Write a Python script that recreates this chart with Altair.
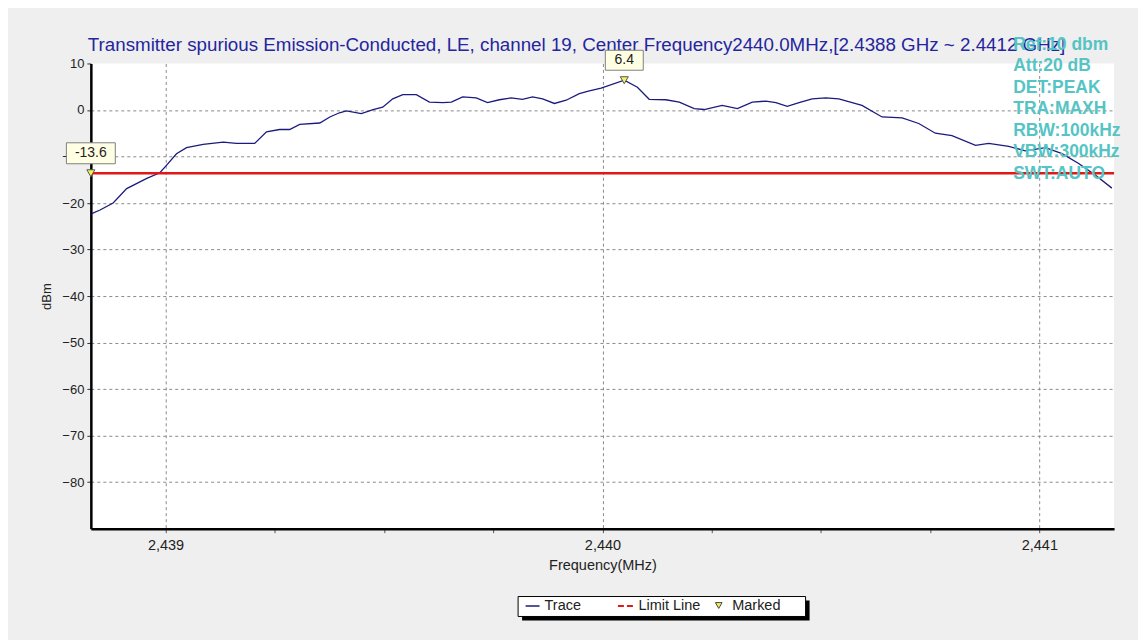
import altair as alt
import pandas as pd

# ---------------- data ----------------
trace_freq = [
    2438.831, 2438.850, 2438.880, 2438.911, 2438.957, 2438.987, 2439.002, 2439.025,
    2439.048, 2439.086, 2439.132, 2439.162, 2439.204, 2439.231, 2439.261, 2439.284,
    2439.307, 2439.353, 2439.376, 2439.398, 2439.414, 2439.448, 2439.475, 2439.497,
    2439.520, 2439.543, 2439.574, 2439.604, 2439.635, 2439.654, 2439.680, 2439.711,
    2439.737, 2439.764, 2439.791, 2439.817, 2439.840, 2439.863, 2439.890, 2439.917,
    2439.947, 2439.970, 2439.997, 2440.050, 2440.080, 2440.107, 2440.145, 2440.176,
    2440.210, 2440.233, 2440.274, 2440.309, 2440.343, 2440.374, 2440.397, 2440.423,
    2440.450, 2440.480, 2440.511, 2440.541, 2440.594, 2440.640, 2440.686, 2440.724,
    2440.762, 2440.800, 2440.854, 2440.884, 2440.930, 2440.968, 2441.014, 2441.052,
    2441.090, 2441.128, 2441.166,
]
trace_dbm = [
    -22.3, -21.5, -20.0, -16.9, -14.7, -13.5, -11.9, -9.4,
    -8.1, -7.4, -6.9, -7.2, -7.2, -4.7, -4.2, -4.2,
    -3.1, -2.8, -1.5, -0.6, -0.2, -0.8, 0.1, 0.6,
    2.4, 3.3, 3.3, 1.7, 1.6, 1.7, 2.8, 2.6,
    1.6, 2.2, 2.6, 2.3, 2.8, 2.4, 1.4, 2.1,
    3.5, 4.1, 4.7, 6.4, 4.9, 2.3, 2.2, 1.7,
    0.3, 0.1, 1.0, 0.3, 1.7, 1.9, 1.6, 0.8,
    1.6, 2.4, 2.6, 2.4, 1.0, -1.5, -1.7, -2.9,
    -5.0, -5.5, -7.6, -7.2, -7.8, -8.8, -8.1, -9.4,
    -11.5, -14.0, -16.8,
]
limit_dbm = -13.6
marker_freq = [2440.05, 2438.829]
marker_dbm = [6.4, -13.6]
marker_text = ["6.4", "-13.6"]

title_text = ("Transmitter spurious Emission-Conducted, LE, channel 19, Center "
              "Frequency2440.0MHz,[2.4388 GHz ~ 2.4412 GHz]")
info_lines = ["Ref:10 dbm", "Att:20 dB", "DET:PEAK", "TRA:MAXH",
              "RBW:100kHz", "VBW:300kHz", "SWT:AUTO"]
legend_labels = ["Trace", "Limit Line", "Marked"]

x_domain = [2438.829, 2441.171]
y_domain = [-90, 10]
x_ticks = [2439, 2439.25, 2439.5, 2439.75, 2440, 2440.25, 2440.5, 2440.75, 2441]
y_ticks = [10, 0, -10, -20, -30, -40, -50, -60, -70, -80]

# ---------------- styling ----------------
FONT = "Liberation Sans"
NAVY = "#1b1b7d"
RED = "#e01818"
TEAL = "#55c4c4"
W, H = 1025, 466

trace_df = pd.DataFrame({"f": trace_freq, "v": trace_dbm})
marker_df = pd.DataFrame({"f": marker_freq, "v": marker_dbm, "t": marker_text})

x_axis = alt.Axis(
    title="Frequency(MHz)", values=x_ticks,
    labelExpr="datum.value % 1 == 0 ? format(datum.value, ',.0f') : ''",
    grid=True, gridDash=[3, 3], gridColor="#8a8a8a", gridWidth=1,
    gridOpacity={"condition": {"test": "datum.value % 1 == 0", "value": 1}, "value": 0},
    domainColor="black", domainWidth=2.5, tickColor="#555", tickSize=4,
    labelFont=FONT, labelFontSize=14.5, labelColor="#222", labelPadding=6,
    titleFont=FONT, titleFontSize=14.5, titleFontWeight="normal", titleColor="#222",
    titlePadding=6,
)
y_axis = alt.Axis(
    title="dBm", values=y_ticks,
    grid=True, gridDash=[3, 3], gridColor="#8a8a8a", gridWidth=1,
    gridOpacity={"condition": {"test": "datum.value == 10", "value": 0}, "value": 1},
    domainColor="black", domainWidth=2.5, tickColor="#333", tickSize=4,
    labelFont=FONT, labelFontSize=13, labelColor="#222", labelPadding=3,
    titleFont=FONT, titleFontSize=13, titleFontWeight="normal", titleColor="#222",
    titlePadding=8,
)
X = alt.X("f:Q", scale=alt.Scale(domain=x_domain, nice=False, zero=False), axis=x_axis)
Y = alt.Y("v:Q", scale=alt.Scale(domain=y_domain, nice=False, zero=False), axis=y_axis)

one = alt.Data(values=[{}])

trace = alt.Chart(trace_df).mark_line(color=NAVY, strokeWidth=1.3).encode(x=X, y=Y)

limit = alt.Chart(alt.Data(values=[{"v": limit_dbm}])).mark_rule(
    color=RED, strokeWidth=2.5).encode(y=Y)

tri = alt.Chart(marker_df).mark_point(
    shape="triangle-down", filled=True, fill="#f2f25a", stroke="#555",
    strokeWidth=1, size=65, opacity=1).encode(x=X, y=Y)


def box_path(w, h):
    r = h / w
    return f"M-1,{-r:.4f}L1,{-r:.4f}L1,{r:.4f}L-1,{r:.4f}Z"


box_peak = alt.Chart(marker_df).transform_filter(alt.datum.t == "6.4").mark_point(
    shape=box_path(38, 20), size=38 * 38, filled=True, fill="#ffffe4",
    stroke="#808080", strokeWidth=1, opacity=1, yOffset=-20).encode(x=X, y=Y)
box_left = alt.Chart(marker_df).transform_filter(alt.datum.t == "-13.6").mark_point(
    shape=box_path(49, 21), size=49 * 49, filled=True, fill="#ffffe4",
    stroke="#808080", strokeWidth=1, opacity=1, yOffset=-20).encode(x=X, y=Y)
marker_lbl = alt.Chart(marker_df).mark_text(
    font=FONT, fontSize=14, color="#222", dy=-20, baseline="middle",
    align="center").encode(x=X, y=Y, text="t:N")

title = alt.Chart(one).mark_text(
    font=FONT, fontSize=18.8, color="#2525a0", align="left",
    baseline="alphabetic").encode(
    x=alt.value(-3), y=alt.value(-12.3), text=alt.value(title_text))

info = alt.Chart(one).mark_text(
    font=FONT, fontSize=17.5, fontWeight="bold", color=TEAL, align="left",
    baseline="top", lineHeight=21.5).encode(
    x=alt.value(924), y=alt.value(-27.5), text=alt.value(info_lines))

# legend (drawn by hand)
leg_shadow = alt.Chart(one).mark_rect(color="black").encode(
    x=alt.value(432), x2=alt.value(720), y=alt.value(538), y2=alt.value(558))
leg_box = alt.Chart(one).mark_rect(fill="white", stroke="black", strokeWidth=1).encode(
    x=alt.value(428), x2=alt.value(716), y=alt.value(534), y2=alt.value(554))
leg_trace = alt.Chart(one).mark_rule(color=NAVY, strokeWidth=1.5).encode(
    x=alt.value(435.5), x2=alt.value(449.5), y=alt.value(543.5))
leg_limit = alt.Chart(one).mark_rule(color=RED, strokeWidth=2, strokeDash=[6, 3]).encode(
    x=alt.value(528), x2=alt.value(544), y=alt.value(543.5))
leg_tri = alt.Chart(one).mark_point(
    shape="triangle-down", filled=True, fill="#f2f25a", stroke="#444",
    strokeWidth=1, size=45, opacity=1).encode(x=alt.value(629), y=alt.value(543))
leg_texts = []
for lbl, px in zip(legend_labels, [454.5, 548.5, 642.5]):
    leg_texts.append(
        alt.Chart(alt.Data(values=[{"t": lbl}])).mark_text(
            font=FONT, fontSize=14.5, color="#222", align="left", baseline="middle"
        ).encode(x=alt.value(px), y=alt.value(544), text="t:N"))

chart = alt.layer(
    title, trace, limit, tri, box_peak, box_left, marker_lbl, info,
    leg_shadow, leg_box, leg_trace, leg_limit, leg_tri, *leg_texts,
).properties(
    width=W, height=H,
    autosize=alt.AutoSizeParams(type="none"),
    padding={"left": 83, "top": 55, "right": 24, "bottom": 111},
    background="#efefef",
).configure_view(fill="white", stroke=None)

chart.save("out.html", embed_options={"renderer": "svg", "actions": False})
